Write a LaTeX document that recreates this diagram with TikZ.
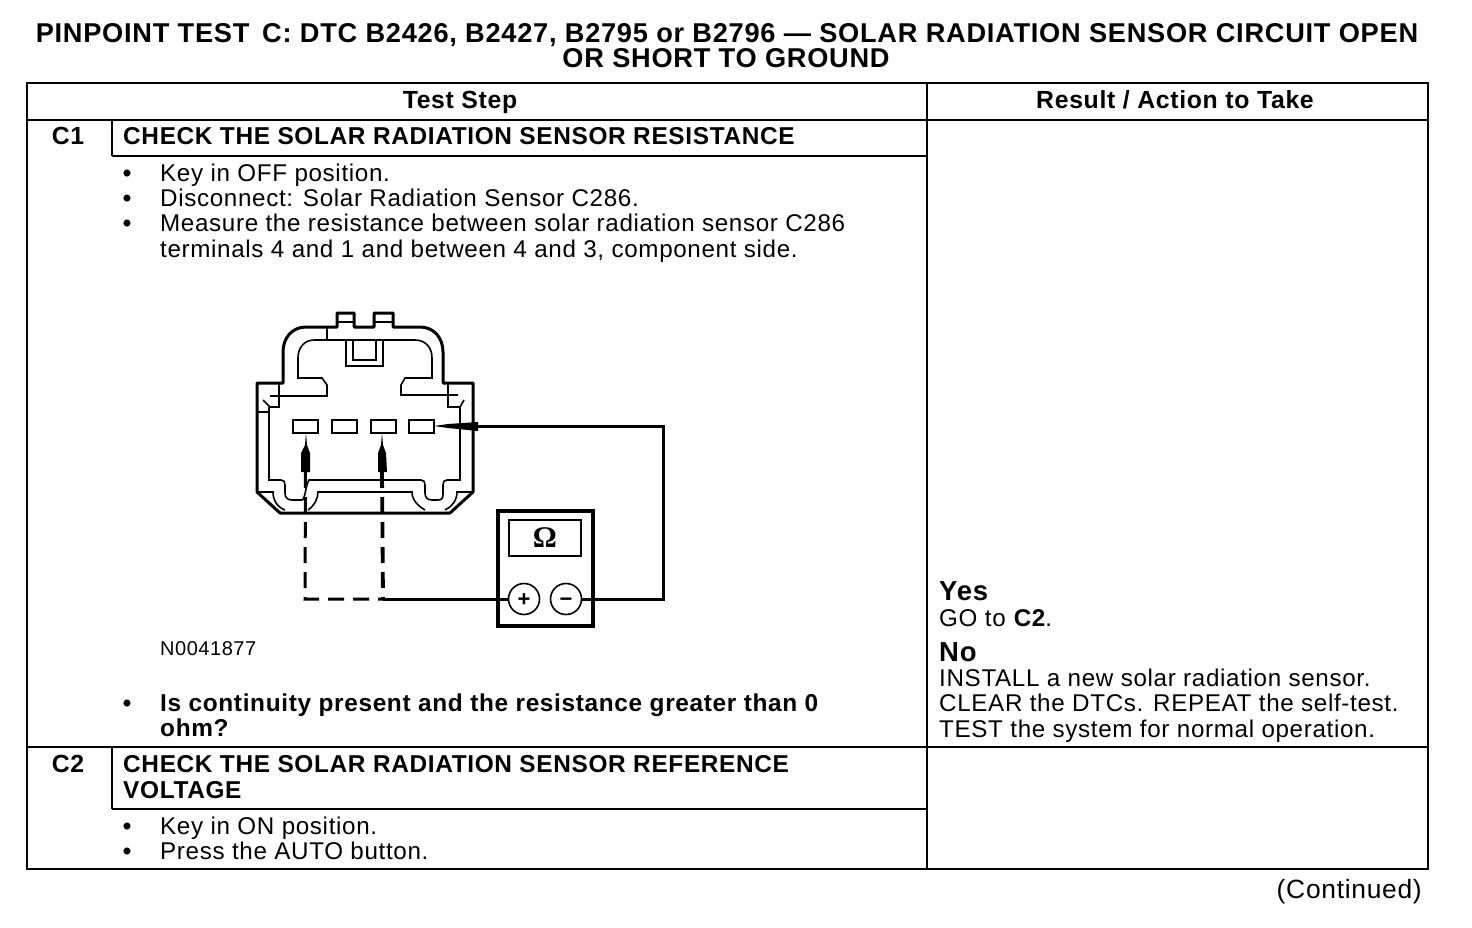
\documentclass[tikz,border=0pt]{standalone}
\usepackage{fontspec}
\setmainfont[LetterSpace=2.7]{Liberation Sans}
\newfontfamily\omegafont{Liberation Serif}
\begin{document}
\begin{tikzpicture}[x=1pt, y=-1pt]
\tikzstyle{gridLine}=[line width=2.4pt]
\tikzstyle{thinLine}=[line width=1.6pt]
\tikzstyle{shellLine}=[line width=3pt, line join=round]
\tikzstyle{wireLine}=[line width=3pt]
\tikzstyle{dashLine}=[line width=3pt, dash pattern=on 16pt off 9pt]
\tikzstyle{plainText}=[anchor=base west, inner sep=0pt, font=\fontsize{24.2}{25}\selectfont]
\tikzstyle{boldText}=[plainText, font=\fontsize{24.4}{25}\selectfont\bfseries]
\tikzstyle{titleText}=[anchor=base, inner sep=0pt, font=\fontsize{27.2}{25}\selectfont\bfseries]
\tikzstyle{headText}=[anchor=base, inner sep=0pt, font=\fontsize{24.8}{25}\selectfont\bfseries]
\tikzstyle{bigText}=[plainText, font=\fontsize{27.5}{27}\selectfont\bfseries]
\tikzstyle{bulletText}=[anchor=base, inner sep=0pt, font=\fontsize{24.2}{25}\selectfont\bfseries]
\tikzstyle{pinStyle}=[draw, thinLine, minimum width=25pt, minimum height=13pt, inner sep=0pt]
\tikzstyle{termStyle}=[draw, thinLine, circle, minimum size=31pt, inner sep=0pt, fill=white, text height=14.6pt, text depth=0pt, font=\fontsize{22}{22}\selectfont\bfseries]
\tikzstyle{probeStyle}=[fill=black]
\useasboundingbox (0,0) rectangle (1472,928);
% title
\node[titleText] (title1) at (727,43) {PINPOINT TEST\, C: DTC B2426, B2427, B2795 or B2796 — SOLAR RADIATION SENSOR CIRCUIT OPEN};
\node[titleText] (title2) at (726,68) {OR SHORT TO GROUND};
% table
\draw[gridLine] (27,83) rectangle (1428,869);
\draw[gridLine] (27,120) -- (1428,120);
\draw[gridLine] (27,747) -- (1428,747);
\draw[gridLine] (927,83) -- (927,869);
\draw[gridLine] (112,156) -- (927,156);
\draw[gridLine] (112,809) -- (927,809);
\draw[gridLine] (112,120) -- (112,156);
\draw[gridLine] (112,747) -- (112,809);
\node[headText] (head1) at (460,109) {Test Step};
\node[headText] (head2) at (1175,109) {Result / Action to Take};
\node[headText] (c1) at (68,145) {C1};
\node[headText] (c2) at (68,772) {C2};
\node[boldText] (c1title) at (123,145) {CHECK THE SOLAR RADIATION SENSOR RESISTANCE};
\node[boldText] (c2title1) at (123,772) {CHECK THE SOLAR RADIATION SENSOR REFERENCE};
\node[boldText] (c2title2) at (123,798) {VOLTAGE};
% steps
\foreach \y in {182,207,232,711,834,859}
  \node[bulletText] at (127,\y) {•};
\node[plainText] (s1) at (160,182) {Key in OFF position.};
\node[plainText] (s2) at (160,207) {Disconnect: Solar Radiation Sensor C286.};
\node[plainText] (s3) at (160,232) {Measure the resistance between solar radiation sensor C286};
\node[plainText] (s4) at (160,257) {terminals 4 and 1 and between 4 and 3, component side.};
\node[plainText, font=\fontsize{20}{20}\selectfont] (fig) at (160,655) {N0041877};
\node[boldText] (q1) at (160,711) {Is continuity present and the resistance greater than 0};
\node[boldText] (q2) at (160,736) {ohm?};
\node[plainText] (s5) at (160,834) {Key in ON position.};
\node[plainText] (s6) at (160,859) {Press the AUTO button.};
% results
\node[bigText] (yes) at (939,600) {Yes};
\node[plainText] (r1) at (939,626) {GO to \textbf{C2}.};
\node[bigText] (no) at (939,661) {No};
\node[plainText] (r2) at (939,686) {INSTALL a new solar radiation sensor.};
\node[plainText] (r3) at (939,711) {CLEAR the DTCs. REPEAT the self-test.};
\node[plainText] (r4) at (939,737) {TEST the system for normal operation.};
\node[plainText, anchor=base east, font=\fontsize{26.4}{26}\selectfont] (cont) at (1422,898) {(Continued)};
% connector shell
\draw[shellLine] (257,383) -- (283,383) -- (283,352) .. controls (283,338) and (292,327) .. (306,327)
  -- (337,327) -- (337,313) -- (354,313) -- (354,327) -- (374,327) -- (374,313) -- (393,313) -- (393,327)
  -- (420,327) .. controls (434,327) and (443,338) .. (443,352) -- (443,383) -- (473,383) -- (473,492)
  -- (450,513) -- (280,513) -- (257,492) -- cycle;
\draw[thinLine] (337,322) -- (354,322) (374,322) -- (393,322) (327,328) -- (327,339);
\draw[thinLine] (270,396) -- (327,396) -- (327,385) -- (322,378) -- (298,378) -- (298,358)
  .. controls (298,347) and (305,340) .. (314,340) -- (415,340) .. controls (425,340) and (432,347) .. (432,358)
  -- (432,378) -- (405,378) -- (401,385) -- (401,395) -- (458,395);
\draw[thinLine] (346,340) -- (346,366) -- (383,366) -- (383,340) (353,340) -- (353,360) -- (376,360) -- (376,340);
\draw[thinLine] (279,383) -- (279,407) -- (270,407) -- (263,400) (257,412) -- (268,412);
\draw[thinLine] (269,407) -- (269,480) -- (281,480) .. controls (284,480) and (285,482) .. (285,485) -- (285,493)
  .. controls (285,498) and (288,500) .. (292,500) -- (302,500) .. controls (305,500) and (306,484) .. (309,480)
  -- (421,480) .. controls (424,480) and (425,482) .. (425,485) -- (425,493) .. controls (425,498) and (428,500) .. (432,500)
  -- (438,500) .. controls (442,500) and (443,498) .. (443,494) -- (443,485) .. controls (443,482) and (444,480) .. (447,480)
  -- (460,480) -- (460,407) -- (464,400);
\draw[thinLine] (448,383) -- (448,407) -- (460,407);
\draw[thinLine] (308,510) .. controls (315,505) and (318,498) .. (318,492) -- (412,492) .. controls (412,500) and (418,506) .. (425,510);
\draw[thinLine] (257,492) -- (273,492) .. controls (273,500) and (277,507) .. (285,510);
\draw[thinLine] (473,492) -- (457,492) .. controls (457,500) and (452,507) .. (445,510);
% pins
\node[pinStyle] (pin1) at (305.5,426.5) {};
\node[pinStyle] (pin2) at (344.5,426.5) {};
\node[pinStyle] (pin3) at (383.5,426.5) {};
\node[pinStyle] (pin4) at (421.5,426.5) {};
% meter
\node[draw, line width=3.4pt, minimum width=95pt, minimum height=115pt, inner sep=0pt] (meter) at (545.5,568.5) {};
\node[draw, line width=2pt, minimum width=72pt, minimum height=36pt, inner sep=0pt, font=\fontsize{30}{30}\omegafont\bfseries] (display) at (545,538) {Ω};
\coordinate (corner1) at (305,599);
\coordinate (corner2) at (383,599);
\coordinate (corner3) at (663,599);
\coordinate (corner4) at (663,426);
% probes
\coordinate (tip1) at (306,433);
\coordinate (tip2) at (382,433);
\coordinate (tip3) at (434,426);
\coordinate (end1) at (305.5,472);
\coordinate (end2) at (382,472);
\coordinate (end3) at (478,426);
\fill[probeStyle] (tip1) -- +(1,12) -- +(4,20) -- (310,472) -- (301,472) -- (301,453) -- (305,445) -- cycle;
\fill[probeStyle] (tip2) -- +(1,12) -- +(4,20) -- (387,472) -- (378,472) -- (378,453) -- (381,445) -- cycle;
\fill[probeStyle] (tip3) -- (448,424) -- (478,422) -- (478,431) -- (448,428) -- cycle;
\draw[dashLine] (end1) -- (corner1) -- (corner2);
\draw[dashLine, line width=3.8pt] (end2) -- (corner2);
\draw[wireLine] (end3) -- (corner4) -- (corner3) -- (581,599);
\draw[wireLine] (corner2) -- (509,599);
\node[termStyle] (plus) at (524,599) {+};
\node[termStyle] (minus) at (566,599) {−};
\end{tikzpicture}
\end{document}
